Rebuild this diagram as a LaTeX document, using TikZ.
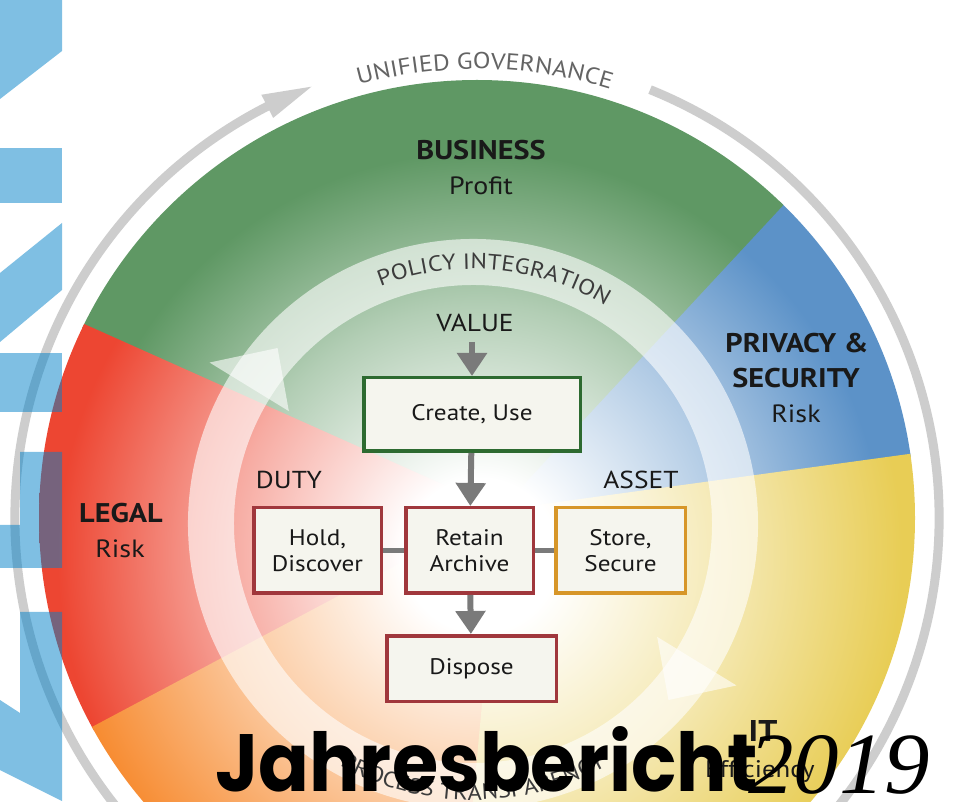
\documentclass[tikz,border=0pt]{standalone}
\usepackage{graphicx}
\usepackage{fontspec}
\setmainfont{PT Sans}[FakeStretch=1.12]
\newfontfamily\jfont{Poppins}
\newfontfamily\yfont{Liberation Serif}
\usetikzlibrary{calc,decorations.text,arrows.meta}
\definecolor{cgreen}{RGB}{95,152,100}
\definecolor{cblue}{RGB}{92,146,200}
\definecolor{cred}{RGB}{237,70,50}
\definecolor{corange}{RGB}{247,140,50}
\definecolor{cyellow}{RGB}{232,205,85}
\definecolor{ringgray}{RGB}{205,205,205}
\definecolor{ugray}{RGB}{100,100,100}
\definecolor{tgray}{RGB}{60,60,60}
\definecolor{txt}{RGB}{25,25,25}
\definecolor{agray}{RGB}{122,122,122}
\definecolor{boxfill}{RGB}{245,245,238}
\definecolor{bgreen}{RGB}{45,106,48}
\definecolor{bred}{RGB}{160,55,60}
\definecolor{bgold}{RGB}{215,150,40}
\definecolor{decoblue}{RGB}{0,129,201}
\pgfdeclareradialshading{shgreen}{\pgfpoint{0bp}{0bp}}{color(0bp)=(white);color(4bp)=(white);color(13bp)=(cgreen!48!white);color(21bp)=(cgreen);color(50bp)=(cgreen)}
\pgfdeclareradialshading{shblue}{\pgfpoint{0bp}{0bp}}{color(0bp)=(white);color(4bp)=(white);color(13bp)=(cblue!48!white);color(21bp)=(cblue);color(50bp)=(cblue)}
\pgfdeclareradialshading{shred}{\pgfpoint{0bp}{0bp}}{color(0bp)=(white);color(4bp)=(white);color(13bp)=(cred!45!white);color(22bp)=(cred);color(50bp)=(cred)}
\pgfdeclareradialshading{shorange}{\pgfpoint{0bp}{0bp}}{color(0bp)=(white);color(4bp)=(white);color(13bp)=(corange!45!white);color(22bp)=(corange);color(50bp)=(corange)}
\pgfdeclareradialshading{shyellow}{\pgfpoint{0bp}{0bp}}{color(0bp)=(white);color(4bp)=(white);color(13bp)=(cyellow!45!white);color(22bp)=(cyellow);color(50bp)=(cyellow)}
\tikzset{
  boxbase/.style={draw, line width=3.5pt, fill=boxfill, inner sep=0pt, align=center, text=txt, font=\fontsize{22.5}{26}\selectfont},
  gbox/.style={boxbase, draw=bgreen},
  rbox/.style={boxbase, draw=bred},
  obox/.style={boxbase, draw=bgold},
  garrow/.style={draw=agray, line width=6pt, -{Triangle[width=29pt,length=23pt]}},
  gline/.style={draw=agray, line width=5pt},
  lbl/.style={text=txt, inner sep=0pt, anchor=base, font=\fontsize{24.5}{24.5}\selectfont},
  bigb/.style={text=txt, inner sep=0pt, anchor=base, font=\fontsize{27}{27}\selectfont\bfseries},
  bigr/.style={text=txt, inner sep=0pt, anchor=base, font=\fontsize{25}{25}\selectfont},
  ringw/.style={fill=white, fill opacity=0.6},
  deco/.style={fill=decoblue, fill opacity=0.5}
}
\begin{document}
\begin{tikzpicture}[x=1pt,y=1pt]
\useasboundingbox (0,0) rectangle (953,801);
\clip (0,0) rectangle (953,801);
\fill[white] (0,0) rectangle (953,801);
\coordinate (C) at (477,283);
\coordinate (P0) at (500,291);
\coordinate (S) at (480,246);

% coloured sectors
\foreach \a/\b/\sh in {7.5/47.4/shblue, 47.4/156.2/shgreen, 156.2/208.3/shred, 208.3/265/shorange, 265/367.5/shyellow} {
  \begin{scope}
    \clip (C) circle[radius=438pt];
    \clip (P0) -- ($(P0)+({\a-0.3}:1500pt)$) -- ($(P0)+({(\a+\b)/2}:1500pt)$) -- ($(P0)+({\b+0.3}:1500pt)$) -- cycle;
    \shade[shading=\sh] (S) circle[radius=480pt];
  \end{scope}
}

% outer grey ring with arrow
\draw[ringgray, line width=9pt] ($(C)+(68:462pt)$) arc[start angle=68, end angle=-243.5, radius=462pt];
\fill[ringgray] ($(C)+(117:449pt)$) -- ($(C)+(117:475pt)$) -- ($(C)+(111:462pt)$) -- cycle;
\path[decorate, decoration={text along path, text align=center,
  text={|\color{ugray}\fontsize{23}{23}\selectfont|UNIFIED GOVERNANCE}}]
  ($(C)+(113:449pt)$) arc[start angle=113, end angle=65, radius=449pt];

% inner translucent ring
\begin{scope}[shift={(473,277)}]
  \fill[ringw] (148.5:285pt) arc[start angle=148.5, end angle=-31.5, radius=285pt]
     -- (-31.5:309pt) -- (-42:263pt) -- (-31.5:216pt) -- (-31.5:239pt)
     arc[start angle=-31.5, end angle=148.5, radius=239pt] -- cycle;
  \fill[ringw] (-31.5:285pt) arc[start angle=-31.5, end angle=-211.5, radius=285pt]
     -- (-211.5:309pt) -- (-222:263pt) -- (-211.5:216pt) -- (-211.5:239pt)
     arc[start angle=-211.5, end angle=-31.5, radius=239pt] -- cycle;
  \path[decorate, decoration={text along path, text align=center,
    text={|\color{tgray}\fontsize{22}{22}\selectfont|POLICY INTEGRATION}}]
    (124:255pt) arc[start angle=124, end angle=46, radius=255pt];
  \path[decorate, decoration={text along path, text align=center,
    text={|\color{tgray}\fontsize{22}{22}\selectfont|PROCESS TRANSPARENCY}}]
    (226:276pt) arc[start angle=226, end angle=314, radius=276pt];
\end{scope}

% sector labels
\node[bigb] (bus) at (481,641) {BUSINESS};
\node[bigr] (busp) at (481,606) {Profit};
\node[bigb] (priv) at (797,448) {PRIVACY \&};
\node[bigb] (sec) at (796,413) {SECURITY};
\node[bigr] (privr) at (796,378) {Risk};
\node[bigb] (legal) at (121,278) {LEGAL};
\node[bigr] (legalr) at (120,243) {Risk};
\node[bigb, font=\fontsize{30}{30}\selectfont\bfseries] (it) at (763,60) {IT};
\node[bigr, anchor=base west, font=\fontsize{24}{24}\selectfont] (itp) at (705,24) {Efficiency};

% process labels and boxes
\node[lbl] (value) at (475,469) {VALUE};
\node[lbl] (duty) at (289,312) {DUTY};
\node[lbl] (asset) at (641,312) {ASSET};
\node[gbox, minimum width=216.5pt, minimum height=73.5pt] (create) at (472,386.5) {Create, Use};
\node[rbox, minimum width=127.5pt, minimum height=85.5pt] (hold) at (317.5,250.5) {Hold,\\Discover};
\node[rbox, minimum width=127.5pt, minimum height=85.5pt] (retain) at (469.5,250.5) {Retain\\Archive};
\node[obox, minimum width=129.5pt, minimum height=85.5pt] (store) at (620.5,250.5) {Store,\\Secure};
\node[rbox, minimum width=169.5pt, minimum height=65.5pt] (dispose) at (471.5,132.5) {Dispose};
\coordinate (vstart) at (472,459);
\draw[garrow] (vstart) -- (create);
\draw[garrow] (create) -- (retain);
\draw[garrow] (retain) -- (dispose);
\draw[gline] (hold) -- (retain);
\draw[gline] (retain) -- (store);

% decorative blue shapes at left
\fill[deco] (0,801) -- (62,801) -- (62,750) -- (0,702) -- cycle;
\fill[deco] (0,598) rectangle (62,653);
\fill[deco] (62,578) -- (62,511) -- (0,459) -- (0,528) -- cycle;
\fill[deco] (0,389) rectangle (62,448);
\fill[deco] (20,349) -- (62,349) -- (62,233) -- (0,233) -- (0,276) -- (20,276) -- cycle;
\fill[deco] (20,189) -- (62,189) -- (62,0) -- (0,31) -- (0,101) -- (20,88) -- cycle;

% title overlay
\node[anchor=base west, inner sep=0pt] (title) at (215,9) {\resizebox{542pt}{65pt}{\jfont\bfseries Jahresbericht}};
\node[anchor=base west, inner sep=0pt] (year) at (748,7) {\resizebox{182pt}{58pt}{\yfont\itshape 2019}};
\end{tikzpicture}
\end{document}
